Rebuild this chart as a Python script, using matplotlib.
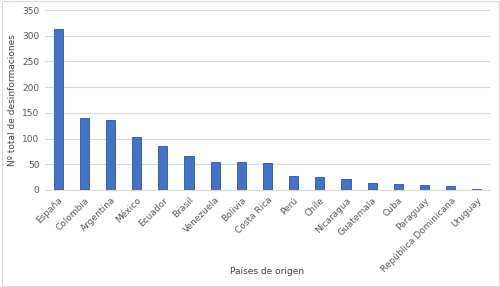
import matplotlib.pyplot as plt
from matplotlib.patches import Rectangle

paises = ["España", "Colombia", "Argentina", "México", "Ecuador", "Brasil",
          "Venezuela", "Bolivia", "Costa Rica", "Perú", "Chile", "Nicaragua",
          "Guatemala", "Cuba", "Paraguay", "República Dominicana", "Uruguay"]
totales = [313, 140, 136, 104, 86, 67, 55, 55, 52, 28, 25, 21, 13, 11, 9, 7, 2]
yticks = [0, 50, 100, 150, 200, 250, 300, 350]

fig = plt.figure(figsize=(5, 2.87), dpi=100)
ax = fig.add_axes([0.09, 0.338, 0.89, 0.627])

# Excel-like blue bars
ax.bar(range(len(paises)), totales, width=0.35, color="#4472C4",
       edgecolor="#2F5597", linewidth=0.6, zorder=3)

ax.set_ylim(0, 350)
ax.set_xlim(-0.5, len(paises) - 0.5)
ax.set_yticks(yticks)
ax.set_xticks(range(len(paises)))
ax.set_xticklabels(paises, rotation=45, ha="right", rotation_mode="anchor")
ax.tick_params(length=0, labelsize=6.5, colors="#595959", pad=4)
ax.grid(axis="y", color="#D9D9D9", linewidth=0.8, zorder=0)
for s in ["top", "left", "right"]:
    ax.spines[s].set_visible(False)
ax.spines["bottom"].set_color("#D9D9D9")

ax.set_ylabel("Nº total de desinformaciones", fontsize=6.5, color="#404040")
ax.set_xlabel("Países de origen", fontsize=6.5, color="#404040")
ax.xaxis.set_label_coords(0.5, -0.43)

# light chart border
fig.patches.append(Rectangle((0.003, 0.003), 0.994, 0.994, transform=fig.transFigure,
                             fill=False, edgecolor="#D9D9D9", linewidth=0.8))

fig.savefig("out.png", dpi=100)
